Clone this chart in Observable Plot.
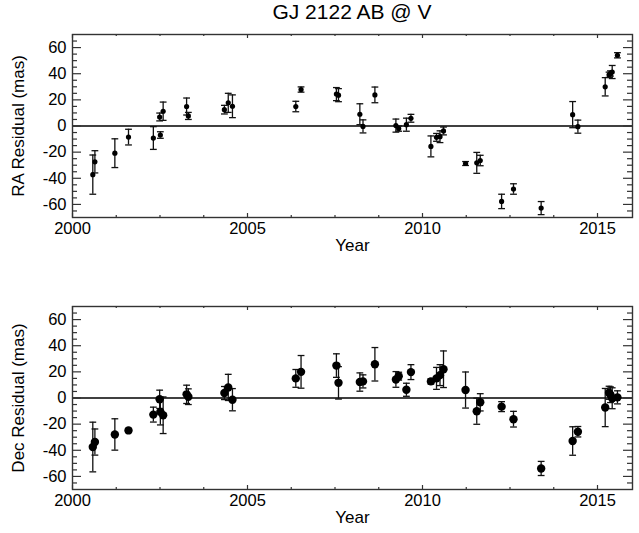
<!DOCTYPE html>
<html><head><meta charset="utf-8">
<script src="https://cdn.jsdelivr.net/npm/d3@7"></script>
<script src="https://cdn.jsdelivr.net/npm/@observablehq/plot@0.6"></script>
<style>
body{margin:0;background:#fff;}
#wrap{position:relative;width:639px;height:533px;font-family:"Liberation Sans",Arial,sans-serif;background:#fff;}
#title{position:absolute;left:72px;width:560px;top:0px;line-height:24px;text-align:center;font-size:21px;color:#000;}
#top{position:absolute;left:0;top:0}
#bot{position:absolute;left:0;top:265px}
</style></head><body>
<div id="wrap"><div id="top"></div><div id="bot"></div><div id="title">GJ 2122 AB @ V</div></div>
<script>
const years = [2000.58, 2000.64, 2001.21, 2001.60, 2002.31, 2002.49, 2002.51, 2002.59, 2003.26, 2003.31, 2004.34, 2004.45, 2004.57, 2006.38, 2006.53, 2007.54, 2007.60, 2008.21, 2008.30, 2008.64, 2009.24, 2009.32, 2009.54, 2009.67, 2010.24, 2010.40, 2010.50, 2010.60, 2011.23, 2011.55, 2011.65, 2012.26, 2012.60, 2013.39, 2014.29, 2014.44, 2015.22, 2015.33, 2015.37, 2015.42, 2015.57];
const raRes = [-37.2, -27.4, -20.8, -8.5, -9.2, 6.9, -6.9, 11.3, 14.9, 7.7, 12.5, 17.7, 15.1, 14.9, 27.9, 24.4, 23.6, 9.0, -0.3, 23.8, 0.3, -2.0, 1.0, 5.9, -15.6, -8.7, -8.2, -3.8, -28.7, -28.2, -26.4, -57.7, -48.2, -62.8, 8.7, -0.5, 30.0, 39.2, 40.2, 41.3, 54.1];
const raErr = [15, 8.5, 11, 6, 8.7, 3, 2.5, 7, 6.5, 2.7, 3.3, 7.3, 8.7, 4, 2, 5, 5, 8, 5, 6, 5, 2, 5, 3, 8, 3, 4.5, 3, 1.5, 8, 4, 5.5, 4, 5, 10, 5, 7, 2, 2, 5, 2];
const decRes = [-37.5, -33.7, -27.9, -24.8, -12.7, -1.0, -10.6, -13.2, 2.8, 1.0, 3.8, 8.1, -1.3, 15.0, 20.0, 24.8, 11.6, 12.2, 12.7, 25.8, 14.2, 16.7, 6.3, 19.8, 12.7, 15.0, 17.5, 22.0, 6.1, -10.1, -3.3, -6.6, -16.2, -53.9, -32.9, -25.8, -7.3, 4.0, 2.5, -0.2, 0.5];
const decErr = [19, 10, 12, 1.5, 5.7, 7, 10, 14, 7, 6, 5, 10, 8.5, 6.8, 12.5, 9, 12.4, 7, 5, 12.8, 6, 3, 5, 5.7, 2, 8.4, 8, 14, 13.8, 10, 6.6, 3.8, 6, 5.4, 10.9, 4, 14.6, 5, 6, 8, 5];
const xMajor = [2000, 2005, 2010, 2015];
const xMinor = [2001.25, 2002.5, 2003.75, 2006.25, 2007.5, 2008.75, 2011.25, 2012.5, 2013.75];
const yMajor = [-60, -40, -20, 0, 20, 40, 60];
const yMinor = [-65, -55, -50, -45, -35, -30, -25, -15, -10, -5, 5, 10, 15, 25, 30, 35, 45, 50, 55, 65];

const capSymbol = {draw(ctx, size){const w = Math.sqrt(size/Math.PI); ctx.moveTo(-w,0); ctx.lineTo(w,0);}};

function panel(vals, errs, ylabel, dotR, height, mt, mb) {
  const data = years.map((x, i) => ({x, y: vals[i], e: errs[i]}));
  const W = 639, ml = 72, mr = 7;
  const fw = W - ml - mr, fh = height - mt - mb;
  return Plot.plot({
    width: W, height, marginLeft: ml, marginRight: mr, marginTop: mt, marginBottom: mb,
    style: {fontFamily: "Liberation Sans, Arial, sans-serif", fontSize: "16px", background: "white", color: "black"},
    x: {domain: [2000, 2016], label: null},
    y: {domain: [-70, 70], label: null},
    marks: [
      Plot.ruleY([0], {stroke: "black", strokeWidth: 1.3}),
      Plot.tickY(yMajor, {y: d => d, insetRight: fw - 9, stroke: "#333", strokeWidth: 1.2}),
      Plot.tickY(yMajor, {y: d => d, insetLeft: fw - 9, stroke: "#333", strokeWidth: 1.2}),
      Plot.tickY(yMinor, {y: d => d, insetRight: fw - 5, stroke: "#333", strokeWidth: 1.2}),
      Plot.tickY(yMinor, {y: d => d, insetLeft: fw - 5, stroke: "#333", strokeWidth: 1.2}),
      Plot.tickX(xMajor, {x: d => d, insetTop: fh - 4, stroke: "#333", strokeWidth: 1.2}),
      Plot.tickX(xMajor, {x: d => d, insetBottom: fh - 4, stroke: "#333", strokeWidth: 1.2}),
      Plot.tickX(xMinor, {x: d => d, insetTop: fh - 2, stroke: "#333", strokeWidth: 1.2}),
      Plot.tickX(xMinor, {x: d => d, insetBottom: fh - 2, stroke: "#333", strokeWidth: 1.2}),
      Plot.frame({stroke: "#333", strokeWidth: 1.4}),
      Plot.ruleX(data, {x: "x", y1: d => d.y - d.e, y2: d => d.y + d.e, stroke: "#111", strokeWidth: 1.3}),
      Plot.dot(data, {x: "x", y: d => d.y + d.e, symbol: capSymbol, r: 3.4, stroke: "#111", strokeWidth: 1.3, fill: "none"}),
      Plot.dot(data, {x: "x", y: d => d.y - d.e, symbol: capSymbol, r: 3.4, stroke: "#111", strokeWidth: 1.3, fill: "none"}),
      Plot.dot(data, {x: "x", y: "y", r: dotR, fill: "black", stroke: "none"}),
      Plot.axisY(yMajor, {tickSize: 0, tickPadding: 6, tickFormat: d => String(d), fontSize: 16.5, label: null}),
      Plot.axisX(xMajor, {tickSize: 0, tickPadding: 5, tickFormat: d => String(d), fontSize: 16.5, label: null}),
      Plot.text(["Year"], {frameAnchor: "bottom", dy: 33, text: d => d, fontSize: 17}),
      Plot.text([ylabel], {frameAnchor: "left", dx: -54, rotate: -90, textAnchor: "middle", text: d => d, fontSize: 17})
    ]
  });
}

document.getElementById("top").append(panel(raRes, raErr, "RA Residual (mas)", 2.6, 265, 34, 48));
document.getElementById("bot").append(panel(decRes, decErr, "Dec Residual (mas)", 4.2, 268, 41, 44));
</script>
</body></html>
